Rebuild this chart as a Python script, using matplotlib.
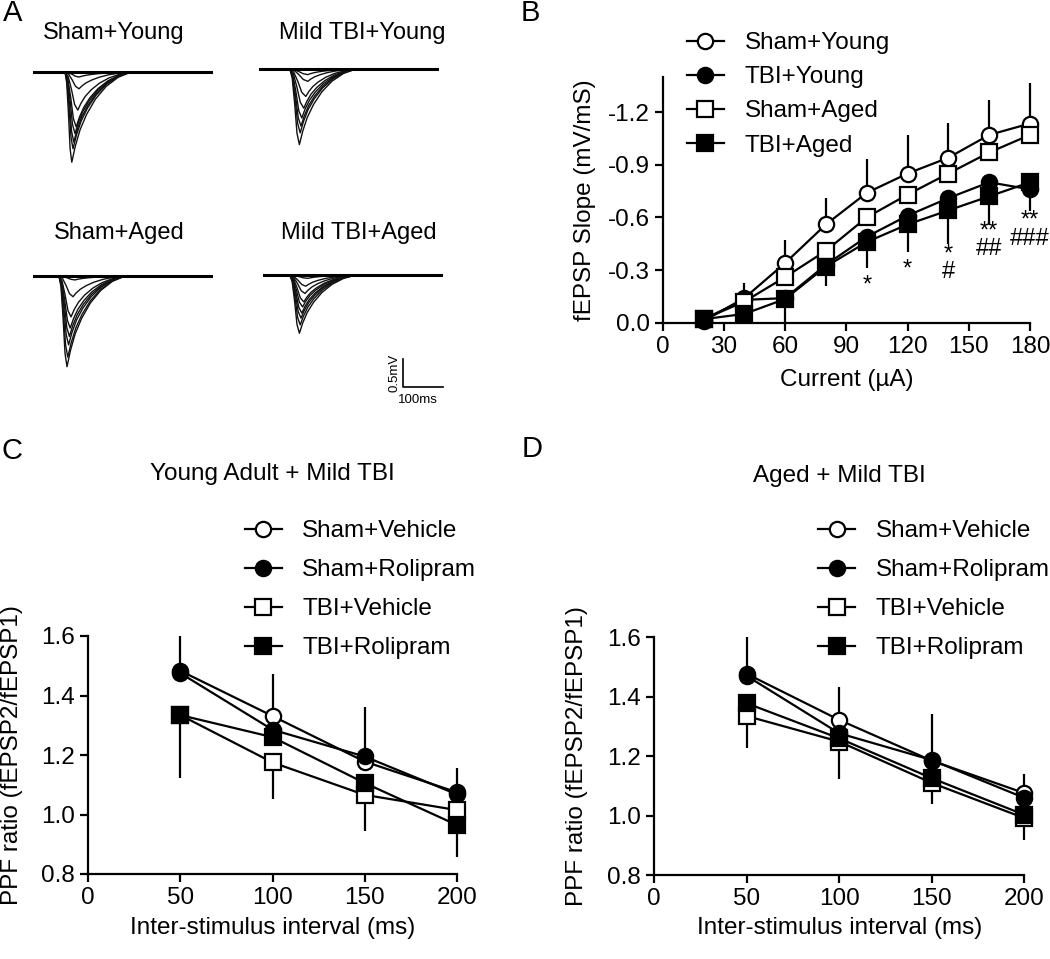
import numpy as np
import matplotlib
matplotlib.use("Agg")
import matplotlib.pyplot as plt

plt.rcParams['font.family'] = ['Liberation Sans', 'DejaVu Sans']
plt.rcParams['axes.unicode_minus'] = False

W, H = 1050, 959

# ------------ Panel A: fEPSP traces (mV, peak times in ms after onset) ---------------
trace_titles = ['Sham+Young', 'Mild TBI+Young', 'Sham+Aged', 'Mild TBI+Aged']
trace_onsets = [80, 77, 65, 67]
sy_amps = [0.0, 0.09, 0.30, 0.68, 0.98, 1.10, 1.25, 1.37, 1.61]
sy_peaks = [30, 35, 35, 32, 28, 25, 22, 20, 17]
ty_amps = [0.0, 0.10, 0.22, 0.49, 0.70, 0.875, 1.02, 1.14, 1.35]
ty_peaks = [40, 45, 45, 40, 35, 30, 28, 26, 24]
sa_amps = [0.0, 0.07, 0.37, 0.73, 0.93, 1.08, 1.23, 1.45, 1.62]
sa_peaks = [35, 40, 35, 30, 28, 26, 24, 22, 20]
ta_amps = [0.0, 0.06, 0.20, 0.33, 0.48, 0.57, 0.68, 0.77, 0.89, 1.04]
ta_peaks = [40, 45, 40, 38, 35, 32, 30, 28, 26, 24]
# template shape of one response
rise_u = [0.0, 0.25, 0.5, 0.75, 1.0]
rise_v = [0.0, 0.12, 0.45, 0.85, 1.0]
decay_u = [0.06, 0.14, 0.25, 0.4, 0.58, 0.78, 1.0]
decay_v = [0.82, 0.64, 0.47, 0.3, 0.16, 0.06, 0.0]
decay_end = 165
sweep_len = 450

# ------------ Panel B: input/output ---------------
currents = [20, 40, 60, 80, 100, 120, 140, 160, 180]
sham_young = [-0.01, -0.14, -0.34, -0.56, -0.74, -0.85, -0.94, -1.07, -1.135]
tbi_young = [-0.02, -0.13, -0.14, -0.33, -0.49, -0.61, -0.71, -0.80, -0.76]
sham_aged = [-0.02, -0.12, -0.26, -0.41, -0.60, -0.73, -0.85, -0.97, -1.07]
tbi_aged = [-0.02, -0.05, -0.135, -0.32, -0.46, -0.56, -0.64, -0.72, -0.80]
sham_young_err = [0.03, 0.085, 0.13, 0.15, 0.19, 0.22, 0.20, 0.20, 0.23]
tbi_aged_err = [0.02, 0.04, 0.135, 0.11, 0.15, 0.156, 0.19, 0.16, 0.165]
ann_x = [100, 120, 140, 160, 180]
ann_y = [-0.234, -0.325, -0.34, -0.47, -0.53]
ann_txt = ['*', '*', '*\n#', '**\n##', '**\n###']

# ------------ Panels C, D: paired-pulse ratio ---------------
isi = [50, 100, 150, 200]
ppf_labels = ['Sham+Vehicle', 'Sham+Rolipram', 'TBI+Vehicle', 'TBI+Rolipram']
young_ppf = [[1.483, 1.331, 1.178, 1.075],
             [1.475, 1.285, 1.195, 1.068],
             [1.334, 1.175, 1.066, 1.015],
             [1.334, 1.260, 1.106, 0.965]]
young_up = [[0.117, 0.141, 0.184, 0.08], [0, 0, 0, 0], [0, 0, 0, 0], [0, 0, 0, 0]]
young_dn = [[0, 0, 0, 0], [0, 0, 0, 0], [0.212, 0.124, 0.12, 0], [0, 0, 0, 0.107]]
aged_ppf = [[1.477, 1.322, 1.185, 1.076],
            [1.470, 1.277, 1.187, 1.060],
            [1.335, 1.249, 1.110, 0.992],
            [1.378, 1.260, 1.126, 1.003]]
aged_up = [[0.123, 0.112, 0.157, 0.065], [0, 0, 0, 0], [0, 0, 0, 0], [0, 0, 0, 0]]
aged_dn = [[0, 0, 0, 0], [0, 0, 0, 0], [0.109, 0.126, 0.071, 0.074], [0, 0, 0, 0]]

styles = [dict(marker='o', mfc='white'), dict(marker='o', mfc='black'),
          dict(marker='s', mfc='white'), dict(marker='s', mfc='black')]

FS = 17.5


def box(l, t, r, b):
    return [l / W, 1 - b / H, (r - l) / W, (b - t) / H]


fig = plt.figure(figsize=(W / 100, H / 100), dpi=100)


def trace_xy(onset, amp, tp):
    t = [0, onset] + [onset + tp * u for u in rise_u[1:]]
    v = [0, 0] + [-amp * r for r in rise_v[1:]]
    dl = decay_end - tp
    t += [onset + tp + dl * u for u in decay_u] + [sweep_len]
    v += [-amp * d for d in decay_v] + [0]
    return t, v


# A panels: 40 px per 100 ms, 56 px per mV
a_pos = [(33, 72), (259, 69), (33, 276), (263, 275)]
a_sets = [(sy_amps, sy_peaks), (ty_amps, ty_peaks), (sa_amps, sa_peaks), (ta_amps, ta_peaks)]
title_x = [114, 362, 119, 359]
title_y = [33, 33, 233, 233]
for k in range(4):
    x0, base = a_pos[k]
    axa = fig.add_axes(box(x0, base - 0.3 * 56, x0 + 180, base + 2.35 * 56))
    axa.set_xlim(0, sweep_len)
    axa.set_ylim(-2.35, 0.3)
    axa.axis('off')
    amps, peaks = a_sets[k]
    for amp, tp in zip(amps, peaks):
        t, v = trace_xy(trace_onsets[k], amp, tp)
        axa.plot(t, v, color='#111111', lw=1.0)
    axa.plot([0, sweep_len], [0, 0], color='black', lw=2.2)
    fig.text(title_x[k] / W, 1 - title_y[k] / H, trace_titles[k], fontsize=17,
             ha='center', va='center')
    if k == 3:
        axa.plot([350, 350, 450], [-1.5, -2.0, -2.0], color='black', lw=1.2, clip_on=False)
        axa.text(328, -1.75, '0.5mV', rotation=90, fontsize=9.5, ha='center', va='center')
        axa.text(388, -2.23, '100ms', fontsize=9.5, ha='center', va='center')


def style_axes(ax):
    for s in ['top', 'right']:
        ax.spines[s].set_visible(False)
    for s in ['left', 'bottom']:
        ax.spines[s].set_linewidth(1.6)
    ax.tick_params(width=1.6, length=6, labelsize=FS, direction='out')


# B
axb = fig.add_axes(box(662.7, 77.0, 1030, 322.7))
style_axes(axb)
b_series = [sham_young, tbi_young, sham_aged, tbi_aged]
b_labels = ['Sham+Young', 'TBI+Young', 'Sham+Aged', 'TBI+Aged']
axb.errorbar(currents, sham_young, yerr=[sham_young_err, [0] * 9], fmt='none',
             ecolor='black', elinewidth=1.6, capsize=0, zorder=1, clip_on=False)
axb.errorbar(currents, tbi_aged, yerr=[[0] * 9, tbi_aged_err], fmt='none',
             ecolor='black', elinewidth=1.6, capsize=0, zorder=1, clip_on=False)
hb = []
for i, ys in enumerate(b_series):
    ln, = axb.plot(currents, ys, color='black', lw=1.6, ms=11, mec='black', mew=1.6,
                   label=b_labels[i], clip_on=False, zorder=3, **styles[i])
    hb.append(ln)
for x, y, s in zip(ann_x, ann_y, ann_txt):
    dy = -3 if '\n' not in s else 0
    axb.annotate(s, (x, y), xytext=(0, dy), textcoords='offset points',
                 fontsize=17, ha='center', va='center', linespacing=0.75)
axb.set_xlim(0, 180)
axb.set_ylim(0, -1.4)
axb.set_xticks(range(0, 181, 30))
axb.set_yticks([0.0, -0.3, -0.6, -0.9, -1.2])
axb.set_yticklabels(['0.0', '-0.3', '-0.6', '-0.9', '-1.2'])
axb.set_xlabel('Current (µA)', fontsize=FS)
axb.set_ylabel('fEPSP Slope (mV/mS)', fontsize=FS)
axb.xaxis.set_label_coords(0.5, -0.233)
axb.xaxis.label.set_va('center')
axb.yaxis.set_label_coords(-0.2115, 0.5)
axb.yaxis.label.set_va('center')
fig.legend(handles=hb, loc='upper left', bbox_to_anchor=(686.7 / W, 1 - 32 / H),
           frameon=False, fontsize=FS, handlelength=1.52, handletextpad=0.86,
           borderpad=0, borderaxespad=0, labelspacing=0.5)


def ppf_panel(rect, vals, up, dn, title, leg_x):
    ax = fig.add_axes(rect)
    style_axes(ax)
    hs = []
    for i in range(4):
        ax.errorbar(isi, vals[i], yerr=[dn[i], up[i]], fmt='none', ecolor='black',
                    elinewidth=1.6, capsize=0, zorder=1, clip_on=False)
    for i in range(4):
        ln, = ax.plot(isi, vals[i], color='black', lw=1.6, ms=11, mec='black', mew=1.6,
                      label=ppf_labels[i], clip_on=False, zorder=3, **styles[i])
        hs.append(ln)
    ax.set_xlim(0, 200)
    ax.set_ylim(0.8, 1.6)
    ax.set_xticks([0, 50, 100, 150, 200])
    ax.set_yticks([0.8, 1.0, 1.2, 1.4, 1.6])
    ax.set_yticklabels(['0.8', '1.0', '1.2', '1.4', '1.6'])
    ax.set_xlabel('Inter-stimulus interval (ms)', fontsize=FS)
    ax.set_ylabel('PPF ratio (fEPSP2/fEPSP1)', fontsize=FS)
    ax.xaxis.set_label_coords(0.5, -0.225)
    ax.xaxis.label.set_va('center')
    ax.yaxis.set_label_coords(-0.208, 0.5)
    ax.yaxis.label.set_va('center')
    ax.text(0.5, 1.68, title, transform=ax.transAxes, fontsize=FS,
            ha='center', va='center')
    fig.legend(handles=hs, loc='upper left', bbox_to_anchor=(leg_x / W, 1 - 520 / H),
               frameon=False, fontsize=FS, handlelength=1.52, handletextpad=0.84,
               borderpad=0, borderaxespad=0, labelspacing=0.7)
    return ax


ppf_panel(box(88.3, 636, 456.7, 874), young_ppf, young_up, young_dn,
          'Young Adult + Mild TBI', 245)
ppf_panel(box(654.3, 637.3, 1024, 875), aged_ppf, aged_up, aged_dn,
          'Aged + Mild TBI', 818.3)

# panel letters
for s, x, y in [('A', 13, 13), ('B', 530, 13), ('C', 12, 451), ('D', 532, 449)]:
    fig.text(x / W, 1 - y / H, s, fontsize=21, ha='center', va='center')

fig.savefig('out.png', dpi=100)
